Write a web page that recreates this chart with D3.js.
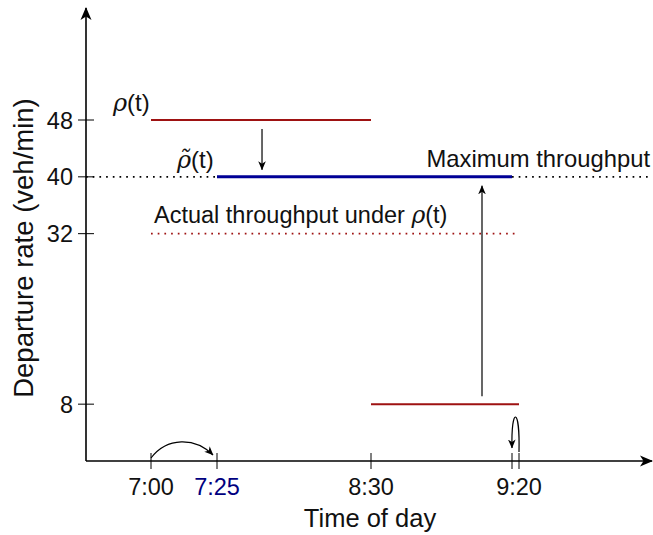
<!DOCTYPE html>
<html>
<head>
<meta charset="utf-8">
<script src="https://cdn.jsdelivr.net/npm/d3@7"></script>
<style>
body { margin: 0; background: #fff; }
text { font-family: "Liberation Sans", Arial, sans-serif; fill: #111; }
</style>
</head>
<body>
<svg id="chart" width="653" height="535"></svg>
<script>
// minutes after 7:00
const tickMinutes = [0, 25, 90, 137, 140];
const tickLabels = ['7:00', '7:25', '8:30', '', '9:20'];
const yTicks = [8, 32, 40, 48];
const rhoSegments = [
	{ start: 0, end: 90, rate: 48 },
	{ start: 90, end: 140, rate: 8 }
];
const rhoTildeSegments = [{ start: 25, end: 137, rate: 40 }];
const actualSegments = [{ start: 0, end: 140, rate: 32 }];
const capacity = 40;

const RED = '#9e1212';
const NAVY = '#000096';
const ORIGIN = { x: 86, y: 461 };
const AXIS_END = { x: 652, y: 8 };

const svg = d3.select('#chart');

// schematic time axis: not proportional in the source figure
const x = d3.scaleLinear().domain([0, 25, 90, 137, 140]).range([151, 217, 371, 512, 519]);
const y = d3.scaleLinear().domain([0, 48]).range([ORIGIN.y, 120]);

const defs = svg.append('defs');
defs.append('marker')
	.attr('id', 'big')
	.attr('markerUnits', 'userSpaceOnUse')
	.attr('viewBox', '0 -6 13 12')
	.attr('refX', 12).attr('refY', 0)
	.attr('markerWidth', 13).attr('markerHeight', 12)
	.attr('orient', 'auto')
	.append('path')
	.attr('d', 'M0,-5.5 L13,0 L0,5.5 L3.5,0 Z')
	.attr('fill', '#000');
defs.append('marker')
	.attr('id', 'small')
	.attr('markerUnits', 'userSpaceOnUse')
	.attr('viewBox', '0 -4 9 8')
	.attr('refX', 8.5).attr('refY', 0)
	.attr('markerWidth', 9).attr('markerHeight', 8)
	.attr('orient', 'auto')
	.append('path')
	.attr('d', 'M0,-3.8 L9,0 L0,3.8 L2.5,0 Z')
	.attr('fill', '#000');

// capacity (dotted, outside the blue segment)
const dotted = [[ORIGIN.x, x(25)], [x(137), 648]];
svg.append('g').selectAll('line')
	.data(dotted)
	.join('line')
	.attr('x1', (d) => d[0])
	.attr('x2', (d) => d[1])
	.attr('y1', y(capacity))
	.attr('y2', y(capacity))
	.attr('stroke', '#000')
	.attr('stroke-width', 1.7)
	.attr('stroke-dasharray', '1.7,5');

// actual throughput (red dotted)
svg.append('g').selectAll('line')
	.data(actualSegments)
	.join('line')
	.attr('x1', (d) => x(d.start))
	.attr('x2', (d) => x(d.end))
	.attr('y1', (d) => y(d.rate))
	.attr('y2', (d) => y(d.rate))
	.attr('stroke', RED)
	.attr('stroke-width', 1.7)
	.attr('stroke-dasharray', '1.7,5');

// rho(t)
svg.append('g').selectAll('line')
	.data(rhoSegments)
	.join('line')
	.attr('x1', (d) => x(d.start))
	.attr('x2', (d) => x(d.end))
	.attr('y1', (d) => y(d.rate))
	.attr('y2', (d) => y(d.rate))
	.attr('stroke', RED)
	.attr('stroke-width', 2);

// rho tilde
svg.append('g').selectAll('line')
	.data(rhoTildeSegments)
	.join('line')
	.attr('x1', (d) => x(d.start))
	.attr('x2', (d) => x(d.end))
	.attr('y1', (d) => y(d.rate))
	.attr('y2', (d) => y(d.rate))
	.attr('stroke', NAVY)
	.attr('stroke-width', 3);

// axes
svg.append('line')
	.attr('x1', ORIGIN.x).attr('y1', ORIGIN.y)
	.attr('x2', AXIS_END.x).attr('y2', ORIGIN.y)
	.attr('stroke', '#000').attr('stroke-width', 1.6)
	.attr('marker-end', 'url(#big)');
svg.append('line')
	.attr('x1', ORIGIN.x).attr('y1', ORIGIN.y)
	.attr('x2', ORIGIN.x).attr('y2', AXIS_END.y)
	.attr('stroke', '#000').attr('stroke-width', 1.6)
	.attr('marker-end', 'url(#big)');

// x ticks
svg.append('g').selectAll('line')
	.data(tickMinutes)
	.join('line')
	.attr('x1', (d) => x(d)).attr('x2', (d) => x(d))
	.attr('y1', ORIGIN.y - 8).attr('y2', ORIGIN.y + 8)
	.attr('stroke', '#000').attr('stroke-width', 1);
svg.append('g').selectAll('text')
	.data(tickMinutes.map((m, i) => ({ m, label: tickLabels[i] })).filter((d) => d.label))
	.join('text')
	.attr('x', (d) => x(d.m))
	.attr('y', 495)
	.attr('text-anchor', 'middle')
	.style('font-size', '23.5px')
	.style('fill', (d) => (d.m === 25 ? '#000080' : '#111'))
	.text((d) => d.label);

// y ticks
svg.append('g').selectAll('line')
	.data(yTicks)
	.join('line')
	.attr('x1', ORIGIN.x - 8).attr('x2', ORIGIN.x + 8)
	.attr('y1', (d) => y(d)).attr('y2', (d) => y(d))
	.attr('stroke', '#000').attr('stroke-width', 1);
svg.append('g').selectAll('text')
	.data(yTicks)
	.join('text')
	.attr('x', ORIGIN.x - 13)
	.attr('y', (d) => y(d) + 8.5)
	.attr('text-anchor', 'end')
	.style('font-size', '23.5px')
	.text((d) => d);

// axis titles
svg.append('text')
	.attr('x', (ORIGIN.x + AXIS_END.x) / 2 + 1)
	.attr('y', 527)
	.attr('text-anchor', 'middle')
	.style('font-size', '25.5px')
	.text('Time of day');
svg.append('text')
	.attr('transform', 'translate(33,248) rotate(-90)')
	.attr('text-anchor', 'middle')
	.style('font-size', '27.5px')
	.text('Departure rate (veh/min)');

// rho labels
function rhoLabel(px, py, tilde) {
	const t = svg.append('text').attr('x', px).attr('y', py).style('font-size', '24px');
	t.append('tspan')
		.style('font-family', '"DejaVu Serif", serif')
		.style('font-style', 'italic')
		.text(tilde ? 'ρ\u0303' : 'ρ');
	t.append('tspan').text('(t)');
	return t;
}
rhoLabel(113, 111, false);
rhoLabel(177, 168, true);

svg.append('text')
	.attr('x', 650).attr('y', 167)
	.attr('text-anchor', 'end')
	.style('font-size', '23.8px')
	.text('Maximum throughput');

const act = svg.append('text')
	.attr('x', 154).attr('y', 223)
	.style('font-size', '23.5px');
act.append('tspan').text('Actual throughput under ');
act.append('tspan')
	.style('font-family', '"DejaVu Serif", serif')
	.style('font-style', 'italic')
	.text('ρ');
act.append('tspan').text('(t)');

// shift arrows
svg.append('line')
	.attr('x1', x(44)).attr('x2', x(44))
	.attr('y1', y(48) + 9).attr('y2', y(capacity) - 7)
	.attr('stroke', '#000').attr('stroke-width', 1.2)
	.attr('marker-end', 'url(#small)');
svg.append('line')
	.attr('x1', x(127)).attr('x2', x(127))
	.attr('y1', y(8) - 8).attr('y2', y(capacity) + 9)
	.attr('stroke', '#000').attr('stroke-width', 1.2)
	.attr('marker-end', 'url(#small)');

// curved arrow 7:00 -> 7:25
svg.append('path')
	.attr('d', `M${x(0)},${ORIGIN.y - 3} C${x(0) + 16},${ORIGIN.y - 24} ${x(25) - 22},${ORIGIN.y - 24} ${x(25) - 4},${ORIGIN.y - 6}`)
	.attr('fill', 'none')
	.attr('stroke', '#000').attr('stroke-width', 1.2)
	.attr('marker-end', 'url(#small)');

// loop arrow at 9:20
svg.append('path')
	.attr('d', `M${x(140)},${ORIGIN.y - 9} C${x(140) + 1},${ORIGIN.y - 55} ${x(137) - 1},${ORIGIN.y - 55} ${x(137)},${ORIGIN.y - 13}`)
	.attr('fill', 'none')
	.attr('stroke', '#000').attr('stroke-width', 1.2)
	.attr('marker-end', 'url(#small)');
</script>
</body>
</html>
